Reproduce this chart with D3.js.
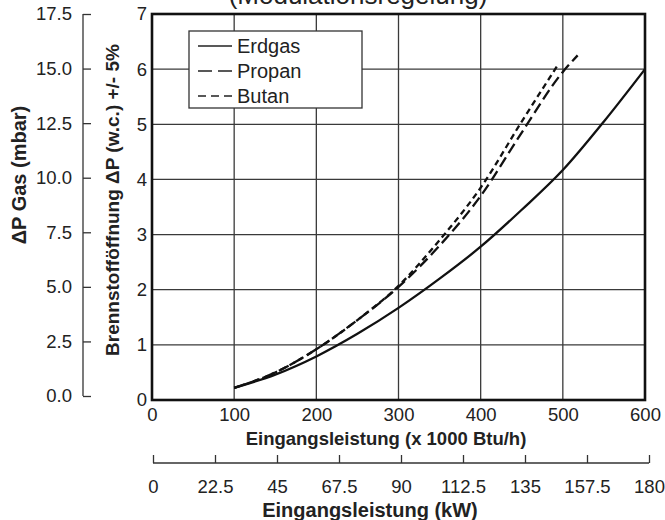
<!DOCTYPE html>
<html>
<head>
<meta charset="utf-8">
<script src="https://cdn.jsdelivr.net/npm/d3@7/dist/d3.min.js"></script>
<style>
  html, body { margin: 0; padding: 0; background: #fff; }
  svg { display: block; font-family: "Liberation Sans", Arial, Helvetica, sans-serif; }
</style>
</head>
<body>
<svg id="chart" width="665" height="520"></svg>
<script>
// ---- Data ----
const titleText = "(Modulationsregelung)";
const btuTicks = [0, 100, 200, 300, 400, 500, 600];
const kwTicks = [0, 22.5, 45, 67.5, 90, 112.5, 135, 157.5, 180];
const kwTickLabels = ["0", "22.5", "45", "67.5", "90", "112.5", "135", "157.5", "180"];
const wcTicks = [0, 1, 2, 3, 4, 5, 6, 7];
const mbarTicks = [0, 2.5, 5, 7.5, 10, 12.5, 15, 17.5];
const mbarTickLabels = ["0.0", "2.5", "5.0", "7.5", "10.0", "12.5", "15.0", "17.5"];

const erdgasX = [100, 150, 200, 250, 300, 350, 400, 450, 500, 550, 600];
const erdgasY = [0.22, 0.46, 0.79, 1.2, 1.67, 2.2, 2.78, 3.45, 4.17, 5.05, 6.0];
const propanX = [100, 150, 200, 250, 300, 350, 400, 450, 500, 518];
const propanY = [0.22, 0.5, 0.92, 1.45, 2.05, 2.8, 3.7, 4.85, 5.95, 6.25];
const butanX = [100, 150, 200, 250, 300, 350, 400, 450, 495];
const butanY = [0.22, 0.5, 0.92, 1.45, 2.07, 2.9, 3.85, 5.05, 6.1];

const seriesNames = ["Erdgas", "Propan", "Butan"];
const seriesDash = ["none", "11,5", "6,4"];

// ---- Layout ----
const svg = d3.select("#chart");
const pLeft = 152, pRight = 645, pTop = 14, pBottom = 400;
const tickFont = 18.5;

const x = d3.scaleLinear().domain([0, 600]).range([pLeft, pRight]);
const y = d3.scaleLinear().domain([0, 7]).range([pBottom, pTop]);
const yMbar = d3.scaleLinear().domain([0, 17.5]).range([396, 14]);
const xKw = d3.scaleLinear().domain([0, 180]).range([153, 649]);

// Title (cut off at the top, as in the source)
svg.append("text")
  .attr("x", 358).attr("y", 4)
  .attr("text-anchor", "middle")
  .attr("font-size", 26)
  .attr("fill", "#222")
  .text(titleText);

// Grid
const grid = svg.append("g");
grid.selectAll("line.v").data(btuTicks.filter(d => d > 0 && d < 600)).enter()
  .append("line")
  .attr("x1", d => x(d)).attr("x2", d => x(d))
  .attr("y1", pTop).attr("y2", pBottom)
  .attr("stroke", "#3a3a3a").attr("stroke-width", 1.3);
grid.selectAll("line.h").data(wcTicks.filter(d => d > 0 && d < 7)).enter()
  .append("line")
  .attr("x1", pLeft).attr("x2", pRight)
  .attr("y1", d => y(d)).attr("y2", d => y(d))
  .attr("stroke", "#3a3a3a").attr("stroke-width", 1.3);

// Legend
const lg = svg.append("g");
lg.append("rect")
  .attr("x", 189).attr("y", 31).attr("width", 173).attr("height", 77)
  .attr("fill", "#fff").attr("stroke", "#333").attr("stroke-width", 1.3);
seriesNames.forEach((n, i) => {
  const yy = 46 + i * 25;
  lg.append("line")
    .attr("x1", 198).attr("x2", 232).attr("y1", yy).attr("y2", yy)
    .attr("stroke", "#222").attr("stroke-width", 1.5)
    .attr("stroke-dasharray", i === 0 ? null : (i === 1 ? "14,6" : "8,5"));
  lg.append("text")
    .attr("x", 237).attr("y", yy + 7)
    .attr("font-size", 20).attr("fill", "#222")
    .text(n);
});

// Curves
const line = d3.line().x(d => x(d[0])).y(d => y(d[1])).curve(d3.curveMonotoneX);
const series = [
  d3.zip(erdgasX, erdgasY),
  d3.zip(propanX, propanY),
  d3.zip(butanX, butanY)
];
series.forEach((s, i) => {
  svg.append("path")
    .attr("d", line(s))
    .attr("fill", "none")
    .attr("stroke", "#111")
    .attr("stroke-width", 2.3)
    .attr("stroke-dasharray", seriesDash[i] === "none" ? null : seriesDash[i]);
});

// Frame
svg.append("rect")
  .attr("x", pLeft).attr("y", pTop).attr("width", pRight - pLeft).attr("height", pBottom - pTop)
  .attr("fill", "none").attr("stroke", "#111").attr("stroke-width", 2.6);

// Btu axis labels
const xAxis = d3.axisBottom(x).tickValues(btuTicks).tickSize(0).tickPadding(0);
const gx = svg.append("g").attr("transform", `translate(0,${pBottom})`).call(xAxis);
gx.select(".domain").remove();
gx.selectAll("text").attr("font-size", tickFont).attr("fill", "#222")
  .attr("font-family", "Liberation Sans, Arial, sans-serif")
  .attr("y", 15).attr("dy", "0.35em");

// inner y axis labels
const yAxis = d3.axisLeft(y).tickValues(wcTicks).tickSize(0).tickPadding(5).tickFormat(d3.format("d"));
const gy = svg.append("g").attr("transform", `translate(${pLeft},0)`).call(yAxis);
gy.select(".domain").remove();
gy.selectAll("text").attr("font-size", tickFont).attr("fill", "#222")
  .attr("font-family", "Liberation Sans, Arial, sans-serif");

// outer mbar axis
const yM = d3.axisRight(yMbar).tickValues(mbarTicks).tickSize(8).tickPadding(0)
  .tickFormat((d, i) => mbarTickLabels[i]);
const gm = svg.append("g").attr("transform", "translate(83,0)").call(yM);
gm.select(".domain").attr("stroke", "#333").attr("stroke-width", 1.3)
  .attr("d", `M0,${yMbar(17.5)}V${yMbar(0)}`);
gm.selectAll(".tick line").attr("stroke", "#333").attr("stroke-width", 1.3);
gm.selectAll("text").attr("x", -11).attr("text-anchor", "end")
  .attr("font-size", tickFont).attr("fill", "#222")
  .attr("font-family", "Liberation Sans, Arial, sans-serif");

// kW axis
const xK = d3.axisTop(xKw).tickValues(kwTicks).tickSize(8).tickPadding(0)
  .tickFormat((d, i) => kwTickLabels[i]);
const gk = svg.append("g").attr("transform", "translate(0,463)").call(xK);
gk.select(".domain").attr("stroke", "#333").attr("stroke-width", 1.3)
  .attr("d", `M${xKw(0)},0H${xKw(180)}`);
gk.selectAll(".tick line").attr("stroke", "#333").attr("stroke-width", 1.3);
gk.selectAll("text").attr("y", 23.5).attr("dy", "0.35em")
  .attr("font-size", tickFont).attr("fill", "#222")
  .attr("font-family", "Liberation Sans, Arial, sans-serif");

// Axis titles
svg.append("text")
  .attr("x", 386).attr("y", 445)
  .attr("text-anchor", "middle").attr("font-weight", "bold")
  .attr("font-size", 18.5).attr("fill", "#222")
  .text("Eingangsleistung (x 1000 Btu/h)");
svg.append("text")
  .attr("x", 370).attr("y", 516.5)
  .attr("text-anchor", "middle").attr("font-weight", "bold")
  .attr("font-size", 20).attr("fill", "#222")
  .text("Eingangsleistung (kW)");
svg.append("text")
  .attr("transform", "translate(26,175) rotate(-90)")
  .attr("text-anchor", "middle").attr("font-weight", "bold")
  .attr("font-size", 20).attr("fill", "#222")
  .text("ΔP Gas (mbar)");
svg.append("text")
  .attr("transform", "translate(119,200) rotate(-90)")
  .attr("text-anchor", "middle").attr("font-weight", "bold")
  .attr("font-size", 19).attr("fill", "#222")
  .text("Brennstofföffnung ΔP (w.c.) +/- 5%");
</script>
</body>
</html>
